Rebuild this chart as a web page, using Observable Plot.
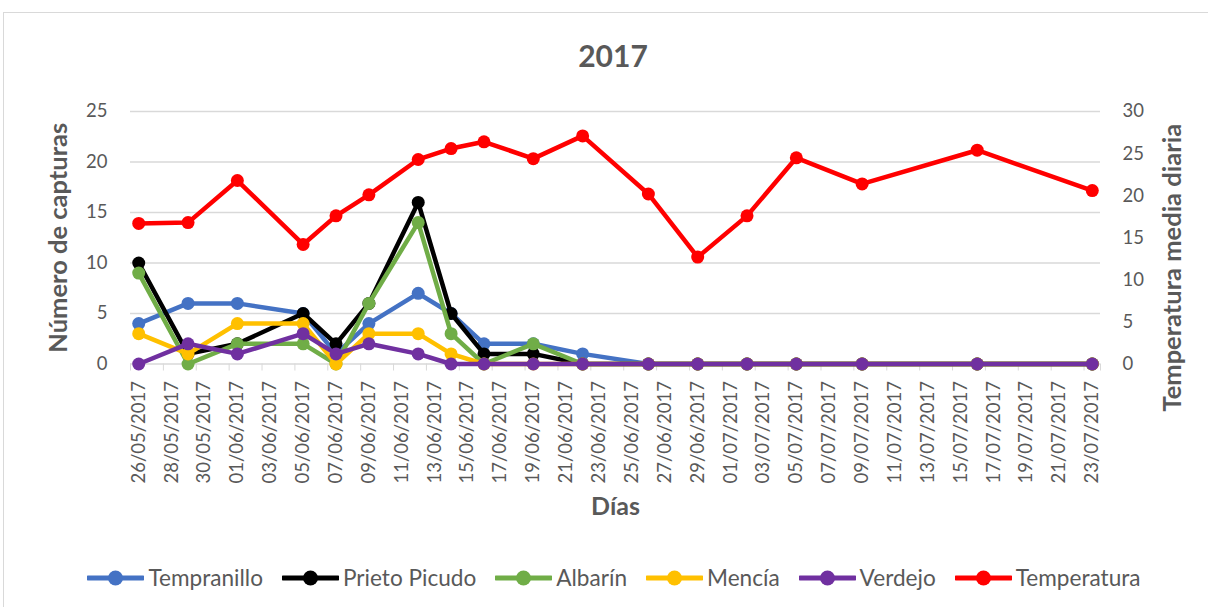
<!DOCTYPE html>
<html><head><meta charset="utf-8">
<script src="https://cdn.jsdelivr.net/npm/d3@7"></script>
<script src="https://cdn.jsdelivr.net/npm/@observablehq/plot@0.6"></script>
<style>
body{margin:0;background:#fff;font-family:Lato,sans-serif;}
#frame{position:absolute;left:3px;top:12px;width:1240px;height:640px;border:1px solid #d9d9d9;box-sizing:border-box;}
#title{position:absolute;left:0;width:1226px;top:40px;text-align:center;font-weight:bold;font-size:30px;line-height:30px;color:#595959;}
#chart{position:absolute;left:0;top:80px;}
#legend{position:absolute;left:0;top:564px;width:1228px;display:flex;justify-content:center;align-items:center;gap:19px;color:#595959;font-size:22.6px;}
.item{display:flex;align-items:center;}
.item span{margin-left:4px;}
</style></head>
<body>
<div id="frame"></div>
<div id="title">2017</div>
<div id="chart"></div>
<div id="legend"></div>
<script>
const dates = ["2017-05-26","2017-05-29","2017-06-01","2017-06-05","2017-06-07","2017-06-09","2017-06-12","2017-06-14","2017-06-16","2017-06-19","2017-06-22","2017-06-26","2017-06-29","2017-07-02","2017-07-05","2017-07-09","2017-07-16","2017-07-23"];
const tempranillo  = [4,6,6,5,1,4,7,5,2,2,1,0,0,0,0,0,0,0];
const prietoPicudo = [10,1,2,5,2,6,16,5,1,1,0,0,0,0,0,0,0,0];
const albarin      = [9,0,2,2,0,6,14,3,0,2,0,0,0,0,0,0,0,0];
const mencia       = [3,1,4,4,0,3,3,1,0,0,0,0,0,0,0,0,0,0];
const verdejo      = [0,2,1,3,1,2,1,0,0,0,0,0,0,0,0,0,0,0];
const temperatura  = [16.7,16.8,21.8,14.2,17.6,20.1,24.3,25.6,26.4,24.4,27.1,20.2,12.7,17.6,24.5,21.4,25.4,20.6];
const leftTicks  = [0,5,10,15,20,25];
const rightTicks = [0,5,10,15,20,25,30];
const firstDay = "2017-05-26", lastDay = "2017-07-23";
const seriesNames  = ["Tempranillo","Prieto Picudo","Albarín","Mencía","Verdejo","Temperatura"];
const seriesColors = ["#4472C4","#000000","#70AD47","#FFC000","#7030A0","#FF0000"];
const seriesValues = [tempranillo, prietoPicudo, albarin, mencia, verdejo, temperatura];

const parse = d3.utcParse("%Y-%m-%d");
const d0 = parse(firstDay), d1 = parse(lastDay);
const half = 12 * 3600 * 1000;
const xDomain = [new Date(+d0 - half), new Date(+d1 + half)];
const allDays = d3.utcDay.range(d0, d3.utcDay.offset(d1, 1));
const labelDays = allDays.filter((d, i) => i % 2 === 0);
const boundaries = labelDays.map(d => new Date(+d - half)).concat([xDomain[1]]);
const ratio = 25 / 30;

const marks = [
  Plot.gridY(leftTicks.filter(v => v > 0), {stroke: "#d9d9d9", strokeOpacity: 1, strokeWidth: 1.3}),
  Plot.ruleY([0], {stroke: "#d9d9d9", strokeWidth: 1.3}),
  Plot.axisX(boundaries, {tickSize: 7, stroke: "#d9d9d9", strokeOpacity: 1, tickFormat: () => "", label: null}),
  Plot.axisX(labelDays, {tickSize: 0, tickPadding: 17, tickRotate: -90, tickFormat: d3.utcFormat("%d/%m/%Y"), fontSize: 18.5, label: null}),
  Plot.axisY(leftTicks, {anchor: "left", tickSize: 0, tickPadding: 23, fontSize: 18.5, label: null}),
  Plot.axisY(rightTicks.map(v => v * ratio), {anchor: "right", tickSize: 0, tickPadding: 22, fontSize: 18.5, tickFormat: d => Math.round(d / ratio), label: null}),
  Plot.text(["Número de capturas"], {text: d => d, frameAnchor: "left", textAnchor: "middle", dx: -72, rotate: -90, fontSize: 25.5, fontWeight: "bold", fill: "#595959"}),
  Plot.text(["Temperatura media diaria"], {text: d => d, frameAnchor: "right", textAnchor: "middle", dx: 72, dy: 30, rotate: -90, fontSize: 25.5, fontWeight: "bold", fill: "#595959"}),
  Plot.text(["Días"], {text: d => d, frameAnchor: "bottom", dy: 151, fontSize: 25, fontWeight: "bold", fill: "#595959"})
];

seriesNames.forEach((name, s) => {
  const scale = name === "Temperatura" ? ratio : 1;
  const rows = dates.map((d, i) => ({date: parse(d), value: seriesValues[s][i] * scale}));
  marks.push(Plot.line(rows, {x: "date", y: "value", stroke: seriesColors[s], strokeWidth: 4.5, strokeLinejoin: "round", strokeLinecap: "round"}));
  marks.push(Plot.dot(rows, {x: "date", y: "value", r: 6.5, fill: seriesColors[s], stroke: "none"}));
});

const chart = Plot.plot({
  width: 1208, height: 460,
  marginTop: 31, marginBottom: 176.5, marginLeft: 130, marginRight: 108,
  x: {type: "utc", domain: xDomain},
  y: {domain: [0, 25]},
  style: {fontFamily: "Lato, sans-serif", color: "#595959", background: "transparent", overflow: "visible"},
  marks
});
document.getElementById("chart").appendChild(chart);

const legend = document.getElementById("legend");
seriesNames.forEach((name, s) => {
  const item = document.createElement("div");
  item.className = "item";
  item.innerHTML = `<svg width="57" height="20"><line x1="1" x2="56" y1="10" y2="10" stroke="${seriesColors[s]}" stroke-width="5" stroke-linecap="round"/><circle cx="28.5" cy="10" r="7.5" fill="${seriesColors[s]}"/></svg><span>${name}</span>`;
  legend.appendChild(item);
});
</script>
</body></html>
